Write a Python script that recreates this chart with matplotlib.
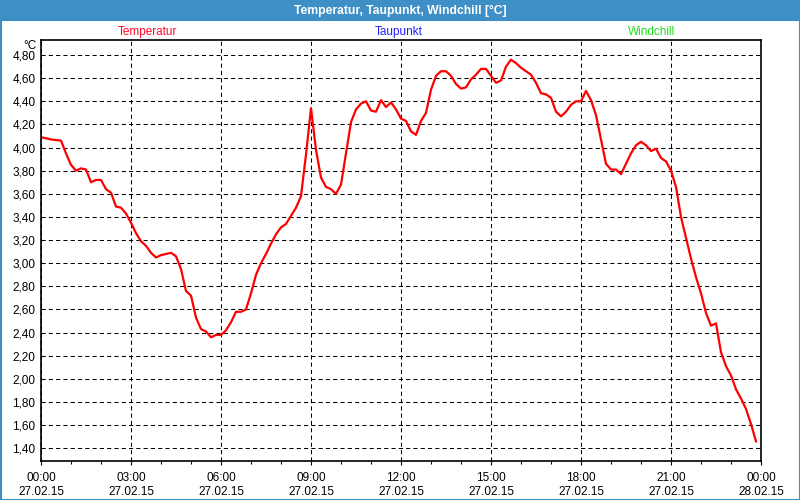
import numpy as np
import pandas as pd
import matplotlib
matplotlib.use("Agg")
import matplotlib.pyplot as plt
import matplotlib.dates as mdates
from matplotlib.patches import Rectangle

# temperature readings, every 10 minutes from 27.02.15 00:00
temp = [4.09, 4.08, 4.07, 4.065, 4.06, 3.95, 3.85, 3.80, 3.82, 3.81,
        3.70, 3.72, 3.72, 3.64, 3.61, 3.49, 3.48, 3.43, 3.35, 3.26,
        3.19, 3.15, 3.09, 3.05, 3.07, 3.08, 3.09, 3.06, 2.95, 2.76,
        2.72, 2.53, 2.43, 2.41, 2.36, 2.38, 2.38, 2.42, 2.49, 2.58,
        2.58, 2.60, 2.74, 2.90, 3.00, 3.08, 3.17, 3.25, 3.31, 3.34,
        3.41, 3.48, 3.58, 3.94, 4.34, 3.98, 3.74, 3.66, 3.64, 3.60,
        3.68, 3.95, 4.22, 4.33, 4.38, 4.40, 4.32, 4.31, 4.41, 4.35,
        4.39, 4.33, 4.25, 4.23, 4.14, 4.11, 4.23, 4.30, 4.50, 4.62,
        4.66, 4.66, 4.62, 4.55, 4.51, 4.52, 4.59, 4.63, 4.68, 4.68,
        4.62, 4.56, 4.58, 4.70, 4.76, 4.73, 4.69, 4.66, 4.63, 4.56,
        4.47, 4.46, 4.43, 4.31, 4.27, 4.31, 4.37, 4.40, 4.40, 4.49,
        4.41, 4.28, 4.07, 3.86, 3.81, 3.81, 3.77, 3.86, 3.95, 4.02,
        4.05, 4.02, 3.97, 3.99, 3.91, 3.88, 3.80, 3.66, 3.40, 3.22,
        3.04, 2.88, 2.74, 2.57, 2.46, 2.48, 2.23, 2.11, 2.03, 1.91,
        1.83, 1.74, 1.61, 1.46]
times = pd.date_range("2015-02-27 00:00", periods=len(temp), freq="10min")

title = "Temperatur, Taupunkt, Windchill [°C]"
series_names = ["Temperatur", "Taupunkt", "Windchill"]
series_colors = ["#ff0a2a", "#2020ff", "#22dd22"]
yticks = [1.4, 1.6, 1.8, 2.0, 2.2, 2.4, 2.6, 2.8, 3.0, 3.2, 3.4, 3.6, 3.8, 4.0, 4.2, 4.4, 4.6, 4.8]

plt.rcParams["font.family"] = ["Liberation Sans", "DejaVu Sans"]

fig = plt.figure(figsize=(8, 5), dpi=100)
fig.patch.set_facecolor("white")

# window frame
blue = "#3d8fc6"
fig.patches.append(Rectangle((0, 1 - 20 / 500), 1, 20 / 500, transform=fig.transFigure,
                             facecolor=blue, edgecolor="none", zorder=0))
fig.patches.append(Rectangle((0.5 / 800, 0.5 / 500), 799 / 800, 480 / 500, transform=fig.transFigure,
                             facecolor="none", edgecolor=blue, linewidth=1.5, zorder=0))
fig.text(0.5, 1 - 10.5 / 500, title, color="white", fontsize=8.7, fontweight="bold",
         ha="center", va="center")

ax = fig.add_axes([41 / 800, 1 - 461 / 500, 720 / 800, 421 / 500])
ax.plot(times, temp, color="#ff0000", linewidth=1.6)

ax.set_xlim(pd.Timestamp("2015-02-27 00:00"), pd.Timestamp("2015-02-28 00:00"))
ax.set_ylim(1.29, 4.93)
ax.set_yticks(yticks)
ax.set_yticklabels([f"{v:.2f}".replace(".", ",") for v in yticks])

ax.xaxis.set_major_locator(mdates.HourLocator(byhour=range(0, 24, 3)))
ax.xaxis.set_minor_locator(mdates.HourLocator())
ax.xaxis.set_major_formatter(mdates.DateFormatter("%H:%M\n%d.%m.%y"))
for lbl in ax.get_xticklabels():
    lbl.set_linespacing(1.2)

ax.tick_params(axis="y", length=0, pad=4, labelsize=8.5)
ax.tick_params(axis="x", which="major", length=3, width=0.8, pad=5, labelsize=8.5)
ax.tick_params(axis="x", which="minor", length=2, width=0.8)
for s in ax.spines.values():
    s.set_linewidth(1.2)
    s.set_color("black")

ax.grid(True, which="major", color="black", linestyle=(0, (4, 3)), linewidth=0.75)

# header labels
for name, col, xp in zip(series_names, series_colors, [147, 399, 652]):
    fig.text(xp / 800, 1 - 32 / 500, name, color=col, fontsize=8.5, ha="center", va="center")
fig.text(37 / 800, 1 - 46 / 500, "°C", fontsize=8.5, ha="right", va="center")

fig.savefig("out.png", dpi=100)
